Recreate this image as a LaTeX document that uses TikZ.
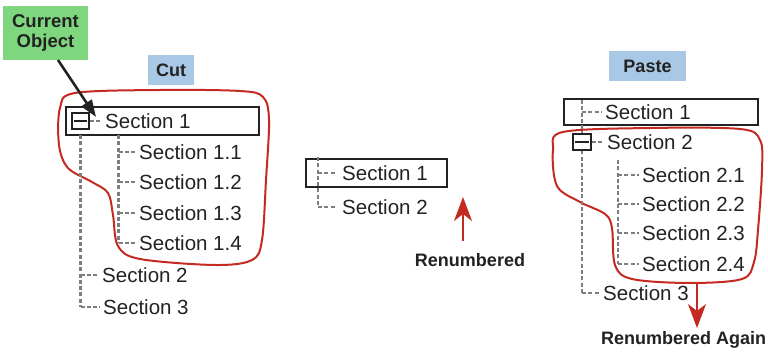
\documentclass[tikz,border=0pt]{standalone}
\usepackage{fontspec}
\setmainfont{Liberation Sans}
\usetikzlibrary{arrows.meta}
\definecolor{txt}{HTML}{222222}
\definecolor{treegray}{HTML}{7E7E7E}
\definecolor{blobred}{HTML}{C42A22}
\definecolor{lblue}{HTML}{A8C8E6}
\definecolor{lgreen}{HTML}{7ED67E}
\tikzset{
  sec/.style={font=\fontsize{20.5}{24}\selectfont, text=txt, anchor=west, inner sep=0pt},
  lbl/.style={font=\fontsize{18}{20}\selectfont\bfseries, text=txt, inner sep=0pt, align=center},
  tree/.style={draw=treegray, line width=2.1pt, dash pattern=on 4pt off 2.3pt},
  branch/.style={tree, shorten >=3.5pt},
  selbox/.style={draw=txt, line width=2pt, inner sep=0pt},
  minusbox/.style={draw=txt, fill=white, line width=1.8pt, inner sep=0pt, minimum width=17pt, minimum height=16pt},
  blob/.style={draw=blobred, line width=2pt},
  redarrow/.style={draw=blobred, line width=1.8pt, -{Stealth[length=24pt,width=18pt,inset=7pt]}},
}
\begin{document}
\begin{tikzpicture}[x=1pt,y=-1pt]
\useasboundingbox (0,0) rectangle (768,352);

% ---------- labels ----------
\node[fill=lgreen, minimum width=85pt, minimum height=54pt, inner sep=0pt] (cur) at (45.5,33) {};
\node[lbl, font=\fontsize{18.5}{20.5}\selectfont\bfseries] (curtext) at (cur.center) {Current\\Object};
\node[fill=lblue, minimum width=46pt, minimum height=30pt, inner sep=0pt] (cut) at (171,70) {};
\node[lbl] at (cut.center) {Cut};
\node[fill=lblue, minimum width=77pt, minimum height=30pt, inner sep=0pt] (paste) at (647.5,66) {};
\node[lbl] at (paste.center) {Paste};

% ---------- left tree ----------
\draw[blob] plot[smooth cycle, tension=0.55] coordinates {
 (160,90) (240,91) (263,97) (269,120) (266,180) (262,240) (252,260) (215,265)
 (140,259) (118,246) (113,215) (108,193) (92,182) (68,168) (59,145) (60,108) (75,93)};

\node[selbox, minimum width=193pt, minimum height=28pt] (box1) at (162.5,121) {};
\node[sec] (s1) at (105,121) {Section 1};
\coordinate (v1top) at (80.5,135);
\coordinate (v2top) at (118.5,135);
\node[sec] (s11) at (139,152) {Section 1.1};
\node[sec] (s12) at (139,182) {Section 1.2};
\node[sec] (s13) at (139,213) {Section 1.3};
\node[sec] (s14) at (139,243) {Section 1.4};
\node[sec] (s2) at (102,275) {Section 2};
\node[sec] (s3) at (103,307) {Section 3};
\draw[tree] (v1top) -- (v1top |- s3.west);
\draw[tree] (v2top) -- (v2top |- s14.west);
\foreach \n in {s11,s12,s13,s14} \draw[branch] (v2top |- \n.west) -- (\n.west);
\foreach \n in {s2,s3} \draw[branch] (v1top |- \n.west) -- (\n.west);
\node[minusbox] (m1) at (80.5,121) {};
\draw[txt, line width=1.5pt] ([xshift=3pt]m1.west) -- ([xshift=-3pt]m1.east);
\draw[branch] (m1.east) -- (s1.west);

\coordinate (cstart) at (58,60);
\coordinate (cend) at (96,117);
\draw[txt, line width=2.6pt, -{Triangle[length=17pt,width=12pt]}] (cstart) -- (cend);

% ---------- middle ----------
\node[selbox, minimum width=141pt, minimum height=28pt] (box2) at (376.5,173) {};
\node[sec] (t1) at (342,173) {Section 1};
\node[sec] (t2) at (342,207) {Section 2};
\coordinate (w1top) at (318,157);
\draw[tree] (w1top) -- (w1top |- t2.west);
\foreach \n in {t1,t2} \draw[branch, shorten >=6pt] (w1top |- \n.west) -- (\n.west);
\node[lbl] (ren) at (470,260) {Renumbered};
\coordinate (r1start) at (463,241);
\coordinate (r1end) at (463,197);
\draw[redarrow] (r1start) -- (r1end);

% ---------- right tree ----------
\draw[blob] plot[smooth cycle, tension=0.55] coordinates {
 (650,128) (740,129) (760,140) (762,170) (758,230) (754,262) (742,279) (690,283)
 (632,279) (615,265) (612,228) (605,214) (580,202) (557,186) (553,150) (563,132)};

\node[selbox, minimum width=194pt, minimum height=26pt] (box3) at (661,112) {};
\node[sec] (p1) at (605,112) {Section 1};
\node[sec] (p2) at (607,142) {Section 2};
\node[sec] (p21) at (642,175) {Section 2.1};
\node[sec] (p22) at (642,204) {Section 2.2};
\node[sec] (p23) at (642,233) {Section 2.3};
\node[sec] (p24) at (642,264) {Section 2.4};
\node[sec] (p3) at (603,293) {Section 3};
\coordinate (u1top) at (582,100);
\coordinate (u2top) at (618,160);
\draw[tree] (u1top) -- (u1top |- p3.west);
\draw[tree] (u2top) -- (u2top |- p24.west);
\foreach \n in {p21,p22,p23,p24} \draw[branch] (u2top |- \n.west) -- (\n.west);
\foreach \n in {p1,p3} \draw[branch] (u1top |- \n.west) -- (\n.west);
\node[minusbox, minimum width=18pt] (m2) at (582,142) {};
\draw[txt, line width=1.5pt] ([xshift=3pt]m2.west) -- ([xshift=-3pt]m2.east);
\draw[branch] (m2.east) -- (p2.west);

\coordinate (r2start) at (697,283);
\coordinate (r2end) at (697,328);
\draw[redarrow] (r2start) -- (r2end);
\node[lbl, anchor=west] (again) at (601,340) {Renumbered Again};
\end{tikzpicture}
\end{document}
